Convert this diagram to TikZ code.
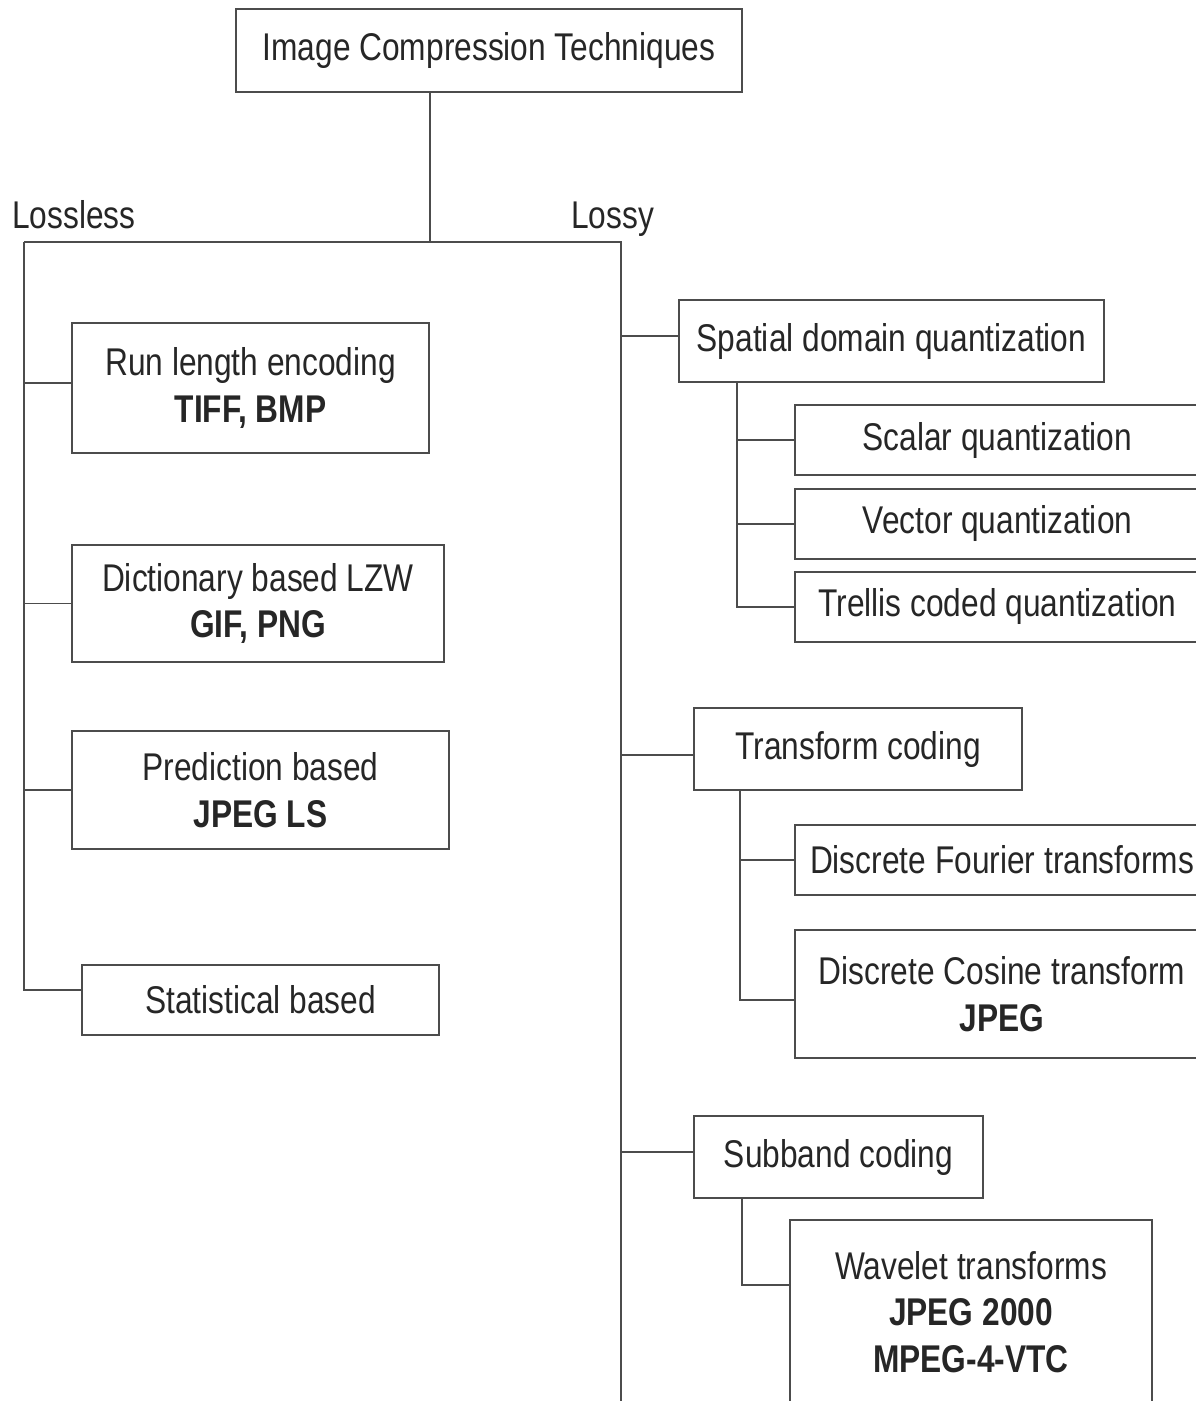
\documentclass[tikz,border=0pt]{standalone}
\usepackage{fontspec}
\setmainfont[FakeStretch=0.82]{Liberation Sans}
\usetikzlibrary{positioning}

\begin{document}
\begin{tikzpicture}[x=0.02cm, y=-0.02cm, font=\fontsize{22}{26.6}\selectfont]
\tikzstyle{box} = [rectangle, draw = black!70, line width = 1.1pt, inner sep = 0pt, align = center, text = black!85]
\tikzstyle{link} = [draw = black!70, line width = 1.1pt]
\tikzstyle{label} = [anchor = base west, inner sep = 0pt, text = black!85]
\useasboundingbox (0,0) rectangle (1196,1401);
\clip (0,0) rectangle (1196,1401);
  % root and the two families
  \node[box, minimum width = 10.12cm, minimum height = 1.66cm] (ict) at (489,50.5) {Image Compression Techniques};
  \node[label] (lossless) at (12,228) {Lossless};
  \node[label] (lossy) at (571,228) {Lossy};
  \coordinate (split) at (430,242);
  \coordinate (lsl) at (24,242);
  \coordinate (lsy) at (621,242);
  \coordinate (lend) at (621,1420);
  % lossless
  \node[box, minimum width = 7.14cm, minimum height = 2.6cm] (rle) at (250.5,388) {Run length encoding\\\textbf{TIFF, BMP}};
  \node[box, minimum width = 7.44cm, minimum height = 2.34cm] (dict) at (258,603.5) {Dictionary based LZW\\\textbf{GIF, PNG}};
  \node[box, minimum width = 7.54cm, minimum height = 2.36cm] (pred) at (260.5,790) {Prediction based\\\textbf{JPEG LS}};
  \node[box, minimum width = 7.14cm, minimum height = 1.4cm] (stat) at (260.5,1000) {Statistical based};
  % lossy
  \node[box, minimum width = 8.5cm, minimum height = 1.64cm] (sdq) at (891.5,341) {Spatial domain quantization};
  \node[box, minimum width = 8.1cm, minimum height = 1.4cm] (scq) at (997.5,440) {Scalar quantization};
  \node[box, minimum width = 8.1cm, minimum height = 1.4cm, below = 0.24cm of scq] (vcq) {Vector quantization};
  \node[box, minimum width = 8.1cm, minimum height = 1.4cm, below = 0.22cm of vcq] (tcq) {Trellis coded quantization};
  \node[box, minimum width = 6.56cm, minimum height = 1.64cm] (tc) at (858,749) {Transform coding};
  \node[box, minimum width = 8.28cm, minimum height = 1.4cm] (dft) at (1002,860) {Discrete Fourier transforms};
  \node[box, minimum width = 8.28cm, minimum height = 2.56cm] (dct) at (1002,994) {Discrete Cosine transform\\\textbf{JPEG}};
  \node[box, minimum width = 5.78cm, minimum height = 1.64cm] (sbc) at (838.5,1157) {Subband coding};
  \node[box, minimum width = 7.24cm, minimum height = 3.68cm] (wav) at (971,1312) {Wavelet transforms\\\textbf{JPEG 2000}\\\textbf{MPEG-4-VTC}};
  \coordinate (s1) at (737,0);
  \coordinate (t1) at (740,0);
  \coordinate (b1) at (742,0);

  \draw[link] (ict.south -| split) -- (split);
  \draw[link] (lsl) -- (lsy) -- (lend);
  \draw[link] (lsl) |- ([yshift=0.2cm]stat.west);
  \draw[link] ([yshift=0.1cm]rle.west -| lsl) -- ([yshift=0.1cm]rle.west);
  \draw[link] (lsl |- dict.west) -- (dict.west);
  \draw[link] (lsl |- pred.west) -- (pred.west);
  \draw[link] ([yshift=0.1cm]sdq.west -| lsy) -- ([yshift=0.1cm]sdq.west);
  \draw[link] ([yshift=-0.12cm]tc.west -| lsy) -- ([yshift=-0.12cm]tc.west);
  \draw[link] ([yshift=0.1cm]sbc.west -| lsy) -- ([yshift=0.1cm]sbc.west);
  \draw[link] (sdq.south -| s1) |- (tcq.west);
  \draw[link] (s1 |- scq.west) -- (scq.west);
  \draw[link] (s1 |- vcq.west) -- (vcq.west);
  \draw[link] (tc.south -| t1) |- ([yshift=-0.12cm]dct.west);
  \draw[link] (t1 |- dft.west) -- (dft.west);
  \draw[link] (sbc.south -| b1) |- ([yshift=0.54cm]wav.west);
\end{tikzpicture}
\end{document}
